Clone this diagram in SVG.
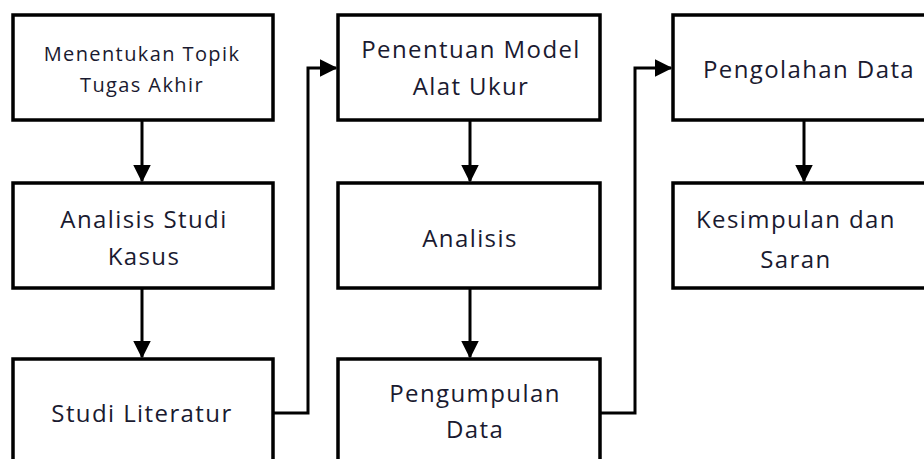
<svg xmlns="http://www.w3.org/2000/svg" width="924" height="459" viewBox="0 0 924 459">
<style>
.box{fill:#fff;stroke:#000;stroke-width:3.5}
.t{font-family:"Open Sans","Liberation Sans",sans-serif;fill:#1a1a30;text-anchor:middle;font-size:24px;letter-spacing:1.4px}
.s{font-size:20px;letter-spacing:1.4px}
.c{fill:none;stroke:#000;stroke-width:3}
</style>
<defs>
<marker id="ah" markerWidth="6" markerHeight="6" refX="5.5" refY="3" orient="auto" markerUnits="strokeWidth" viewBox="0 0 6 6">
<path d="M0,0 L6,3 L0,6 Z" fill="#000"/>
</marker>
</defs>
<g id="connectors">
<line class="c" x1="142" y1="121" x2="142" y2="181" marker-end="url(#ah)"/>
<line class="c" x1="142" y1="289" x2="142" y2="357" marker-end="url(#ah)"/>
<polyline class="c" points="273,413 308,413 308,68 336,68" marker-end="url(#ah)"/>
<line class="c" x1="470" y1="121" x2="470" y2="181" marker-end="url(#ah)"/>
<line class="c" x1="470" y1="289" x2="470" y2="357" marker-end="url(#ah)"/>
<polyline class="c" points="600,413 635,413 635,68 671,68" marker-end="url(#ah)"/>
<line class="c" x1="804" y1="121" x2="804" y2="181" marker-end="url(#ah)"/>
</g>
<g id="n1"><rect class="box" x="13" y="15" width="260" height="105"/>
<text class="t s" x="142" y="61">Menentukan Topik</text><text class="t s" x="142" y="92">Tugas Akhir</text></g>
<g id="n2"><rect class="box" x="13" y="183" width="260" height="105"/>
<text class="t" x="144" y="228">Analisis Studi</text><text class="t" x="144" y="265">Kasus</text></g>
<g id="n3"><rect class="box" x="13" y="359" width="260" height="120"/>
<text class="t" x="142" y="422">Studi Literatur</text></g>
<g id="n4"><rect class="box" x="338" y="15" width="262" height="105"/>
<text class="t" x="471" y="58">Penentuan Model</text><text class="t" x="471" y="95">Alat Ukur</text></g>
<g id="n5"><rect class="box" x="338" y="183" width="262" height="105"/>
<text class="t" x="470" y="247">Analisis</text></g>
<g id="n6"><rect class="box" x="338" y="359" width="262" height="120"/>
<text class="t" x="475" y="402">Pengumpulan</text><text class="t" x="475" y="438">Data</text></g>
<g id="n7"><rect class="box" x="673" y="15" width="262" height="105"/>
<text class="t" x="809" y="78">Pengolahan Data</text></g>
<g id="n8"><rect class="box" x="673" y="183" width="262" height="105"/>
<text class="t" x="796" y="228">Kesimpulan dan</text><text class="t" x="796" y="268">Saran</text></g>
</svg>
